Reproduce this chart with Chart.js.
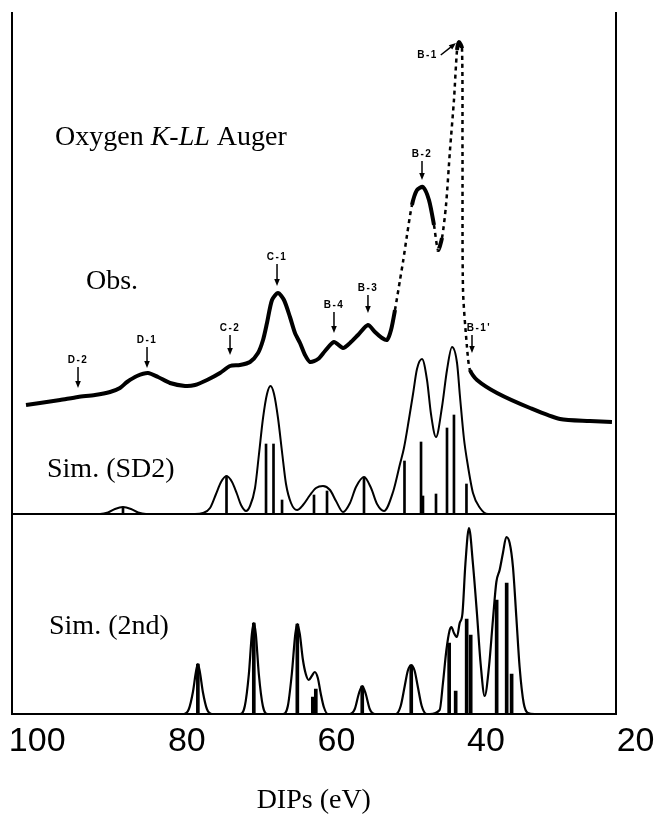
<!DOCTYPE html>
<html>
<head>
<meta charset="utf-8">
<script src="https://cdn.jsdelivr.net/npm/chart.js@4.4.0/dist/chart.umd.min.js"></script>
<style>
  html, body { margin: 0; padding: 0; background: #fff; }
  #wrap { position: relative; width: 660px; height: 829px; }
  #top, #bottom { position: absolute; left: 0; }
  #top { top: 0; }
  #bottom { top: 500px; }
</style>
</head>
<body>
<div id="wrap">
  <canvas id="top" width="660" height="530"></canvas>
  <canvas id="bottom" width="660" height="329"></canvas>
</div>
<script>
// DIP axis (eV), drawn high -> low; the 20 eV label sits just past the frame
const xMin = 22.67, xMax = 103.37;
const xTicks = [100, 80, 60, 40, 20];

// observed O K-LL Auger spectrum (a.u.)
const obsE = [101.50, 99.63, 96.95, 94.55, 92.28, 90.27, 88.94, 88.00, 86.67, 85.20, 83.86, 82.26, 80.25, 78.92,
  77.31, 75.58, 74.24, 72.91, 71.57, 70.50, 69.83, 69.30, 68.63, 67.83, 67.03, 66.23, 65.56, 64.89, 64.22, 63.55,
  62.48, 61.55, 60.35, 59.14, 58.21, 57.14, 55.81, 54.87, 53.93, 53.27, 52.73, 52.20, 51.53, 51.13, 50.59, 49.93, 49.26,
  48.46, 47.66, 46.99, 46.45, 45.92, 45.38, 44.85, 44.32, 43.91, 43.65, 43.25, 43.18, 43.11, 42.58, 42.18, 41.24,
  38.57, 34.16, 30.15, 26.15, 23.21];
const obsI = [109, 111, 114, 117, 119, 122, 126, 132, 138, 141, 137, 131, 128, 129,
  134, 141, 148, 149, 152, 161, 174, 191, 214, 221, 214, 197, 181, 171, 159, 152,
  155, 163, 172, 166, 171, 179, 189, 182, 176, 174, 184, 204, 234, 252, 279, 309, 324,
  327, 314, 289, 264, 276, 309, 364, 414, 464, 472, 466, 364, 224, 167, 144, 134,
  121, 106, 95, 93, 92];

// Sim. (SD2): envelope and stick spectrum
const sd2E = [93.21, 91.61, 90.54, 89.61, 88.54, 87.47, 86.53, 85.46, 78.92, 77.85, 76.91, 76.11, 75.44, 74.71,
  73.97, 73.31, 72.77, 72.10, 71.57, 70.90, 70.37, 69.83, 69.30, 68.83, 68.36, 67.83, 67.29, 66.76, 66.09,
  65.29, 64.49, 63.55, 62.75, 61.82, 60.88, 60.08, 59.14, 58.21, 57.41, 56.34, 55.40, 54.60, 53.67, 52.46,
  51.53, 51.00, 50.33, 49.79, 49.26, 48.59, 47.92, 47.39, 46.72, 45.92, 45.25, 44.58, 43.91, 43.51, 42.98,
  42.58, 41.78, 40.84, 39.77, 22.7];
const sd2I = [0, 0, 1.5, 5, 7, 5, 1.5, 0, 0, 1, 6, 20, 32, 38,
  32, 20, 9, 3, 8, 26, 60, 96, 120, 128, 120, 96, 62, 30, 11,
  4, 9, 19, 26, 28, 24, 13, 2, 11, 27, 37, 26, 10, 3, 22,
  50, 66, 95, 120, 145, 155, 134, 100, 77, 107, 144, 167, 151, 117, 75,
  54, 21, 6, 0, 0];
const sd2StickE = [88.54, 74.71, 69.43, 68.43, 67.29, 63.02, 61.28, 56.34, 50.93, 48.72, 48.46, 46.72, 45.25, 44.32, 42.65];
const sd2StickI = [7, 38, 70, 70, 14, 19, 23, 37, 53, 72, 18, 20, 86, 99, 30];

// Sim. (2nd): envelope and stick spectrum
const s2E = [93.21, 80.39, 79.72, 79.18, 78.78, 78.52, 78.25, 77.85, 77.31, 76.65,
  72.91, 72.24, 71.70, 71.30, 71.04, 70.77, 70.37, 69.83, 69.17,
  67.16, 66.49, 65.96, 65.49, 65.22, 64.89, 64.49, 64.09, 63.69, 63.29, 62.89, 62.48, 62.08, 61.68, 61.15,
  58.21, 57.54, 57.01, 56.54, 56.07, 55.54, 54.87,
  52.06, 51.40, 50.86, 50.46, 49.99, 49.53, 49.13, 48.59, 47.92, 47.52,
  46.19, 45.75, 45.29, 44.85, 44.62, 44.28, 43.88, 43.51, 43.15, 42.75, 42.27, 41.74, 41.20, 40.71, 40.17,
  39.60, 39.07, 38.61, 38.17, 37.73, 37.28, 36.83, 36.39, 35.94, 35.50, 34.96, 34.39, 33.49, 22.7];
const s2I = [0, 0, 5, 22, 42, 50, 42, 22, 5, 0,
  0, 8, 40, 80, 91, 80, 40, 8, 0,
  0, 8, 40, 80, 90, 80, 55, 40, 34, 38, 42, 36, 20, 7, 0,
  0, 5, 20, 28, 20, 5, 0,
  0, 8, 28, 43, 49, 43, 28, 8, 0, 0,
  4, 31, 64, 84, 87, 81, 77, 91, 100, 150, 186, 150, 100, 50, 18,
  47, 94, 132, 144, 161, 177, 171, 147, 97, 47, 11, 1, 0, 0];
const s2StickE = [78.52, 71.04, 65.22, 63.15, 62.75, 56.54, 49.99, 44.92, 44.05, 42.58, 42.04, 38.57, 37.23, 36.57];
const s2StickI = [50, 91, 90, 17, 25, 28, 49, 71, 23, 95, 79, 114, 131, 40];

// peak labels on the observed curve
const peakNames = ['D-2', 'D-1', 'C-2', 'C-1', 'B-4', 'B-3', 'B-2', 'B-1', "B-1'"];
const peakTipE = [94.55, 85.33, 74.24, 67.96, 60.35, 55.81, 48.59, 44.05, 41.91];
const peakTipI = [126, 146, 159, 228, 181, 201, 334, 471, 161];
const labelE = [94.55, 85.33, 74.24, 67.96, 60.35, 55.81, 48.59, 47.86, 40.98];
const labelI = [154, 174, 186, 257, 209, 226, 360, 459, 186];

const pts = (xs, ys) => xs.map((x, i) => ({x: x, y: ys[i]}));

Chart.defaults.font.family = 'Liberation Sans';
Chart.defaults.color = '#000';

const framePlugin = {
  id: 'frame',
  afterDraw(chart, args, opts) {
    const {ctx, chartArea: a} = chart;
    const l = Math.round(a.left), r = Math.round(a.right), t = Math.round(a.top), b = Math.round(a.bottom);
    ctx.save();
    ctx.strokeStyle = '#000';
    ctx.lineWidth = 2;
    ctx.beginPath();
    ctx.moveTo(l, t);
    ctx.lineTo(l, b);
    ctx.lineTo(r, b);
    ctx.lineTo(r, t);
    if (opts.closed) ctx.closePath();
    ctx.stroke();
    ctx.restore();
  }
};

const textPlugin = {
  id: 'texts',
  afterDraw(chart, args, opts) {
    const ctx = chart.ctx;
    ctx.save();
    ctx.fillStyle = '#000';
    ctx.textBaseline = 'alphabetic';
    (opts.items || []).forEach(t => {
      let x = t.x;
      t.parts.forEach(p => {
        ctx.font = (p.italic ? 'italic ' : '') + '28px "Liberation Serif"';
        ctx.fillText(p.s, x, t.y);
        x += ctx.measureText(p.s).width;
      });
    });
    ctx.restore();
  }
};

const peakPlugin = {
  id: 'peaks',
  afterDatasetsDraw(chart) {
    const {ctx, scales: {x, y}} = chart;
    ctx.save();
    ctx.fillStyle = '#000';
    ctx.strokeStyle = '#000';
    ctx.lineWidth = 1.5;
    ctx.font = 'bold 10px "Liberation Sans"';
    ctx.letterSpacing = '1.5px';
    ctx.textAlign = 'center';
    ctx.textBaseline = 'middle';
    peakNames.forEach((name, i) => {
      const lx = x.getPixelForValue(labelE[i]);
      const ly = y.getPixelForValue(labelI[i]);
      const tx = x.getPixelForValue(peakTipE[i]);
      const ty = y.getPixelForValue(peakTipI[i]);
      ctx.fillText(name, lx, ly);
      let sx, sy;
      if (Math.abs(lx - tx) < 15) { sx = tx; sy = ly + 7; }
      else { sx = lx + ctx.measureText(name).width / 2 + 3; sy = ly; }
      const ang = Math.atan2(ty - sy, tx - sx);
      ctx.beginPath();
      ctx.moveTo(sx, sy);
      ctx.lineTo(tx - 5 * Math.cos(ang), ty - 5 * Math.sin(ang));
      ctx.stroke();
      ctx.beginPath();
      ctx.moveTo(tx, ty);
      ctx.lineTo(tx - 7 * Math.cos(ang) + 2.8 * Math.sin(ang), ty - 7 * Math.sin(ang) - 2.8 * Math.cos(ang));
      ctx.lineTo(tx - 7 * Math.cos(ang) - 2.8 * Math.sin(ang), ty - 7 * Math.sin(ang) + 2.8 * Math.cos(ang));
      ctx.closePath();
      ctx.fill();
    });
    ctx.restore();
  }
};

// near-vertical stretches of the recorded trace come out as broken strokes
const steep = c => Math.abs(c.p1.y - c.p0.y) > 15 && Math.abs(c.p1.y - c.p0.y) > 5.5 * Math.abs(c.p1.x - c.p0.x);

new Chart(document.getElementById('top'), {
  type: 'line',
  data: {
    datasets: [
      {
        data: pts(obsE, obsI),
        borderColor: '#000', borderWidth: 4, pointRadius: 0, tension: 0.25,
        segment: {
          borderDash: c => steep(c) ? [4, 4] : undefined,
          borderWidth: c => steep(c) ? 2.5 : undefined
        }
      },
      {
        data: pts(sd2E, sd2I),
        borderColor: '#000', borderWidth: 2, pointRadius: 0, cubicInterpolationMode: 'monotone'
      },
      {
        type: 'bar',
        data: pts(sd2StickE, sd2StickI),
        backgroundColor: '#000', barThickness: 2
      }
    ]
  },
  options: {
    responsive: false, animation: false, devicePixelRatio: 1, events: [],
    layout: { padding: { left: 12, right: 44, top: 12, bottom: 16 } },
    scales: {
      x: { type: 'linear', reverse: true, min: xMin, max: xMax, offset: false, display: false },
      y: { min: 0, max: 502, display: false }
    },
    plugins: {
      legend: { display: false }, tooltip: { enabled: false },
      frame: { closed: false },
      texts: { items: [
        { x: 55, y: 145, parts: [{s: 'Oxygen '}, {s: 'K-LL', italic: true}, {s: ' Auger'}] },
        { x: 86, y: 289, parts: [{s: 'Obs.'}] },
        { x: 47, y: 477, parts: [{s: 'Sim. (SD2)'}] }
      ] }
    }
  },
  plugins: [framePlugin, textPlugin, peakPlugin]
});

new Chart(document.getElementById('bottom'), {
  type: 'line',
  data: {
    datasets: [
      {
        data: pts(s2E, s2I),
        borderColor: '#000', borderWidth: 2.2, pointRadius: 0, cubicInterpolationMode: 'monotone'
      },
      {
        type: 'bar',
        data: pts(s2StickE, s2StickI),
        backgroundColor: '#000', barThickness: 3
      }
    ]
  },
  options: {
    responsive: false, animation: false, devicePixelRatio: 1, events: [],
    layout: { padding: { left: 12, right: 44, top: 14, bottom: 0 } },
    scales: {
      x: {
        type: 'linear', reverse: true, min: xMin, max: xMax, offset: false,
        grid: { display: false, drawTicks: false },
        border: { display: false },
        afterBuildTicks: s => { s.ticks = xTicks.map(v => ({value: v})); },
        afterFit: s => { s.height = 115; },
        ticks: { font: { size: 34, family: 'Liberation Sans' }, color: '#000', padding: 7, maxRotation: 0, autoSkip: false },
        title: {
          display: true, text: 'DIPs (eV)', color: '#000',
          font: { size: 28, family: 'Liberation Serif' },
          padding: { top: 0, bottom: 12 }
        }
      },
      y: { min: 0, max: 200, display: false }
    },
    plugins: {
      legend: { display: false }, tooltip: { enabled: false },
      frame: { closed: true },
      texts: { items: [
        { x: 49, y: 134, parts: [{s: 'Sim. (2nd)'}] }
      ] }
    }
  },
  plugins: [framePlugin, textPlugin]
});
</script>
</body>
</html>
